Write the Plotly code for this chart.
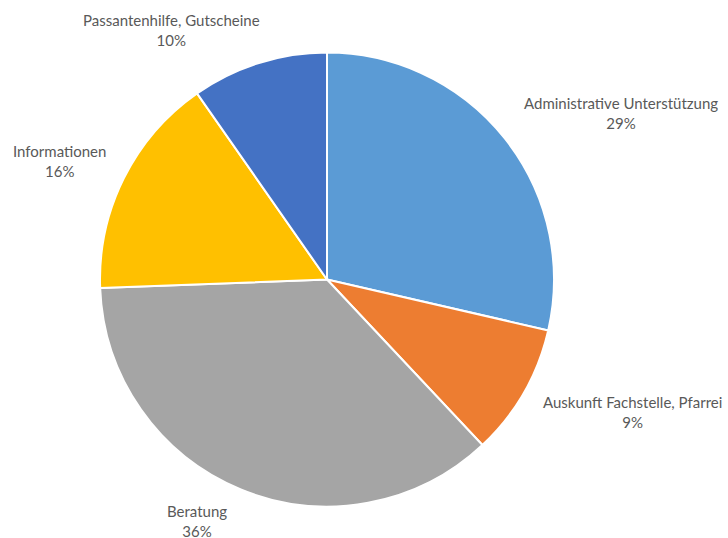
import plotly.graph_objects as go

labels = ["Administrative Unterstützung", "Auskunft Fachstelle, Pfarrei", "Beratung",
          "Informationen", "Passantenhilfe, Gutscheine"]
values = [28.6, 9.4, 36.4, 15.9, 9.7]
colors = ["#5B9BD5", "#ED7D31", "#A5A5A5", "#FFC000", "#4472C4"]

# label text positions in pixels (layout, not data)
label_pos = [(621, 113), (632, 412), (197, 521), (59, 161), (171, 30)]

W, H = 728, 538
cx, cy, r = 327, 279.5, 227

fig = go.Figure(go.Pie(
    labels=labels, values=values, sort=False, direction="clockwise", rotation=0,
    marker=dict(colors=colors, line=dict(color="white", width=2)),
    textinfo="none", hoverinfo="label+percent", showlegend=False,
    domain=dict(x=[(cx - r) / W, (cx + r) / W], y=[1 - (cy + r) / H, 1 - (cy - r) / H]),
))

total = sum(values)
for lab, v, (px, py) in zip(labels, values, label_pos):
    fig.add_annotation(
        x=px / W, y=1 - py / H, xref="paper", yref="paper",
        text=f"{lab}<br>{round(100 * v / total)}%", showarrow=False,
        xanchor="center", yanchor="middle", align="center",
        font=dict(family="Lato", size=15, color="#595959"),
    )

fig.update_layout(width=W, height=H, margin=dict(l=0, r=0, t=0, b=0),
                  paper_bgcolor="white", plot_bgcolor="white")
fig.write_html("out.html", config={"displayModeBar": False},
               post_script="document.body.style.margin='0';document.body.style.overflow='hidden';")
